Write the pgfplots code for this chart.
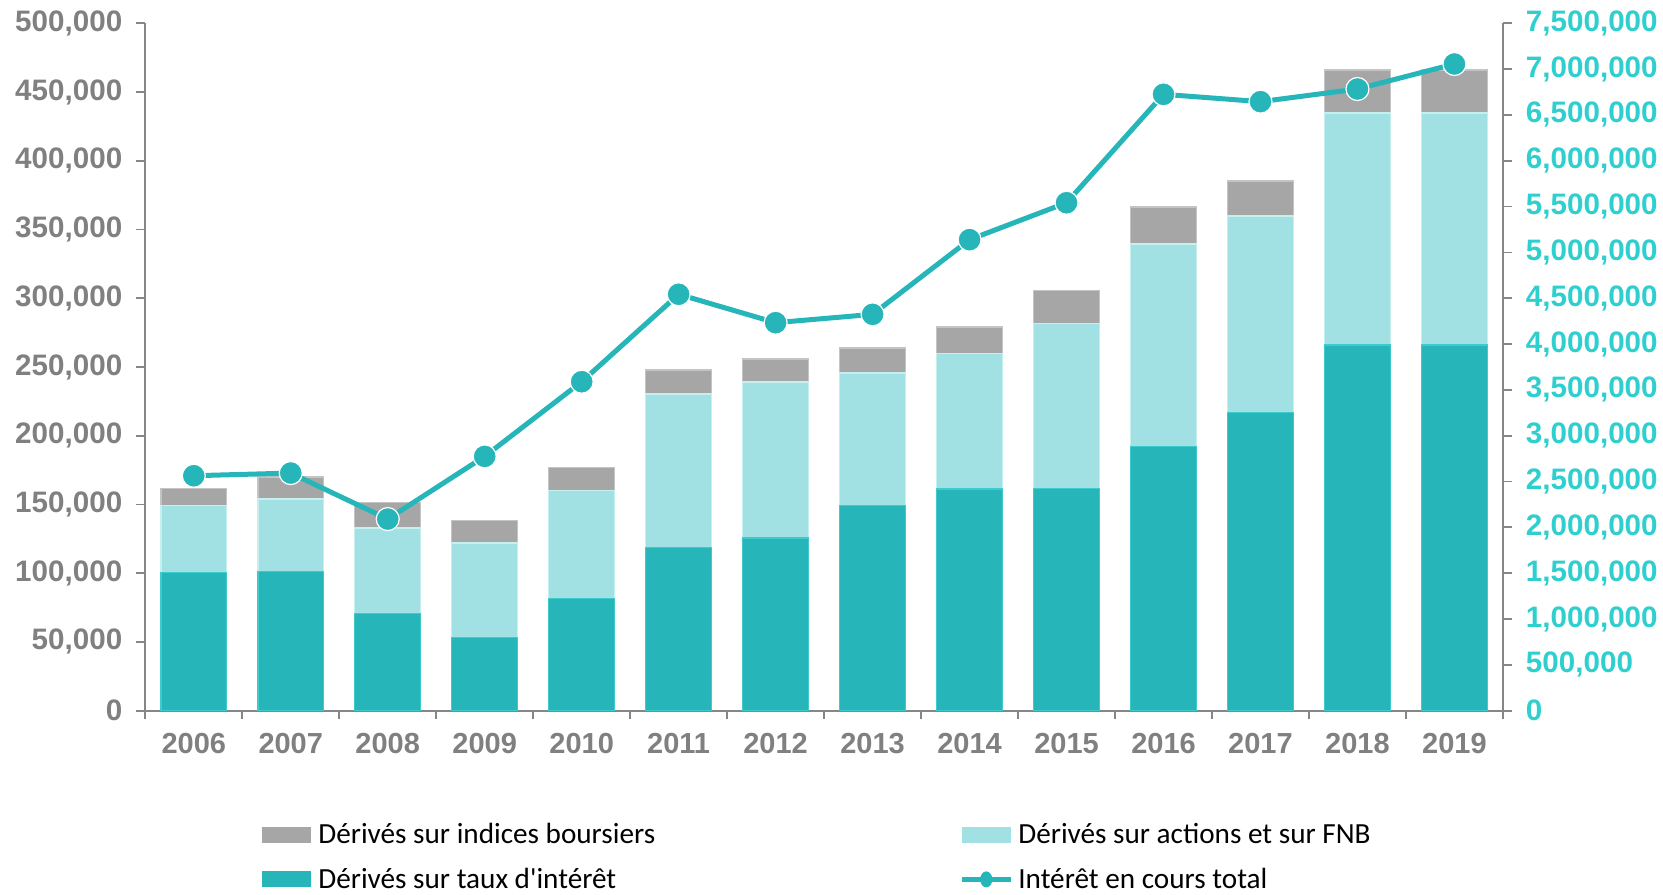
\documentclass[border=0pt]{standalone}
\usepackage{fontspec}
\setmainfont{Liberation Sans}
\newfontfamily\calibri{Carlito}
\usepackage{pgfplots}
\pgfplotsset{compat=1.18}
\definecolor{teal1}{HTML}{26B5B8}
\definecolor{teal1e}{HTML}{3FCBCE}
\definecolor{teal2}{HTML}{A2E1E3}
\definecolor{teal2e}{HTML}{C6EFF0}
\definecolor{gray1}{HTML}{A6A6A6}
\definecolor{gray1e}{HTML}{C4C4C4}
\definecolor{axisgray}{HTML}{868686}
\definecolor{labgray}{HTML}{808080}
\definecolor{cyanlab}{HTML}{2FCFCF}

\begin{document}
\begin{tikzpicture}
\pgfplotsset{
 common/.style={
  width=678.8pt, height=343.65pt, scale only axis,
  xmin=-0.5, xmax=13.5, ymin=0,
  tick align=outside, major tick length=4.5pt, minor tick length=4pt,
  axis line style={draw=axisgray, line width=0.9pt, -},
  every tick/.style={draw=axisgray, line width=0.9pt},
  tick label style={font=\fontsize{14.5}{17}\selectfont\bfseries},
  yticklabel style={font=\fontsize{14.8}{17}\selectfont\bfseries},
  /pgf/number format/assume math mode=true,
  scaled y ticks=false,
  yticklabel style={/pgf/number format/fixed, /pgf/number format/1000 sep={,}},
 }
}
\begin{axis}[common,
 ymax=500000,
 ybar stacked, bar width=32.85pt,
 axis x line*=bottom, axis y line*=left,
 ytick={0,50000,100000,150000,200000,250000,300000,350000,400000,450000,500000},
 yticklabel style={color=labgray, xshift=-3.5pt},
 xtick={0,1,2,3,4,5,6,7,8,9,10,11,12,13},
 xticklabels={2006,2007,2008,2009,2010,2011,2012,2013,2014,2015,2016,2017,2018,2019},
 xticklabel style={color=labgray, yshift=-3.5pt},
 major x tick style={draw=none},
 minor xtick={-0.5,0.5,1.5,2.5,3.5,4.5,5.5,6.5,7.5,8.5,9.5,10.5,11.5,12.5,13.5},
 reverse legend,
 legend columns=2,
 legend cell align=left,
 legend style={at={(axis description cs:0.0855,-0.159)}, anchor=north west,
   draw=none, fill=none, inner sep=0pt,
   font=\calibri\fontsize{14.6}{17}\selectfont,
   row sep=7.6pt,
   nodes={inner sep=1.5pt},
   /tikz/column 2/.style={column sep=150.5pt}},
 legend image code/.code={\path[#1, draw=none] (0pt,-4pt) rectangle (24.5pt,4pt);
   \node[draw=none, fill=none, inner sep=0pt, minimum size=0pt] at (26.5pt,0pt) {};},
]
\coordinate (O) at (rel axis cs:0,0);
\addlegendimage{legend image code/.code={
  \draw[teal1, line width=2.5pt] (0pt,0pt) -- (24.5pt,0pt);
  \fill[teal1] (12.25pt,0pt) ellipse (2.8pt and 3.8pt);
  \node[draw=none, fill=none, inner sep=0pt, minimum size=0pt] at (26.5pt,0pt) {};}}
\addlegendentry{Intérêt en cours total}
\addplot[fill=teal1, draw=teal1e, line width=0.6pt] coordinates {
(0,100500) (1,101000) (2,70400) (3,53200) (4,81700) (5,118500) (6,125600)
(7,149300) (8,161200) (9,161700) (10,192000) (11,217000) (12,266000) (13,266000)};
\addlegendentry{Dérivés sur taux d'intérêt}
\addplot[fill=teal2, draw=teal2e, line width=0.6pt] coordinates {
(0,48500) (1,53000) (2,62400) (3,68800) (4,78400) (5,111800) (6,113500)
(7,96300) (8,98300) (9,119800) (10,147500) (11,142800) (12,168700) (13,168700)};
\addlegendentry{Dérivés sur actions et sur FNB}
\addplot[fill=gray1, draw=gray1e, line width=0.6pt] coordinates {
(0,12700) (1,16000) (2,18700) (3,16300) (4,16500) (5,17500) (6,16700)
(7,18200) (8,19600) (9,24300) (10,26900) (11,25500) (12,31300) (13,31300)};
\addlegendentry{Dérivés sur indices boursiers}
\end{axis}
\begin{axis}[common,
 ymax=7500000,
 axis x line=none, axis y line*=right,
 ytick={0,500000,1000000,1500000,2000000,2500000,3000000,3500000,4000000,4500000,5000000,5500000,6000000,6500000,7000000,7500000},
 yticklabel style={color=cyanlab, xshift=3.5pt},
]
\addplot[teal1, line width=2.5pt, mark=*, mark size=5.75pt,
  mark options={fill=teal1, draw=white, line width=0.6pt}] coordinates {
(0,2563000) (1,2592000) (2,2090000) (3,2774000) (4,3589000) (5,4543000) (6,4233000)
(7,4324000) (8,5139000) (9,5542000) (10,6725000) (11,6645000) (12,6783000) (13,7056000)};
\end{axis}
\pgfresetboundingbox
\path[use as bounding box] ([shift={(-72.65pt,-91.7pt)}]O) rectangle ++(831.5pt,447pt);
\end{tikzpicture}
\end{document}
